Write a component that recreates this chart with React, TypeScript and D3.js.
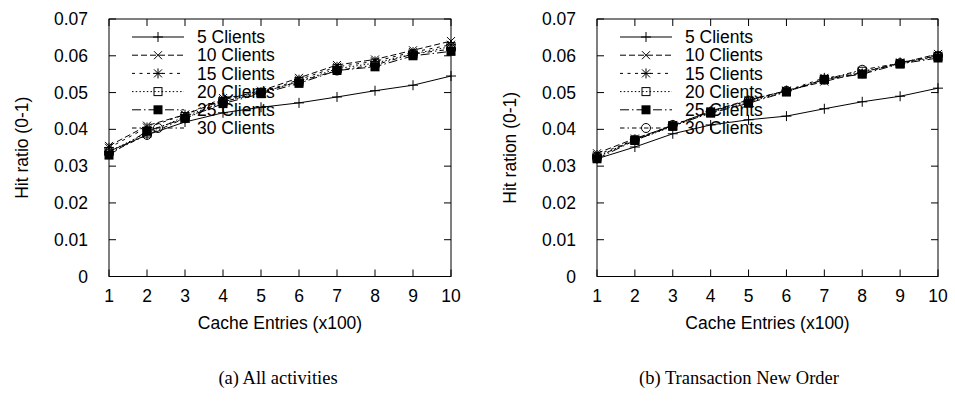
import React from "react";
import * as d3 from "d3";

// x positions (cache entries, x100)
const cacheEntries = [1, 2, 3, 4, 5, 6, 7, 8, 9, 10];
const yTicks = [0, 0.01, 0.02, 0.03, 0.04, 0.05, 0.06, 0.07];
const yTickLabels = ["0", "0.01", "0.02", "0.03", "0.04", "0.05", "0.06", "0.07"];
const seriesNames = ["5 Clients", "10 Clients", "15 Clients", "20 Clients", "25 Clients", "30 Clients"];

// (a) All activities
const allC5 = [0.034, 0.0385, 0.042, 0.0445, 0.046, 0.0472, 0.0488, 0.0505, 0.052, 0.0545];
const allC10 = [0.0355, 0.041, 0.044, 0.048, 0.0505, 0.054, 0.0575, 0.059, 0.0615, 0.064];
const allC15 = [0.035, 0.0405, 0.044, 0.0485, 0.05, 0.0535, 0.057, 0.0585, 0.061, 0.063];
const allC20 = [0.034, 0.039, 0.0435, 0.0475, 0.05, 0.053, 0.0565, 0.058, 0.0605, 0.0625];
const allC25 = [0.033, 0.0395, 0.043, 0.047, 0.0497, 0.0525, 0.056, 0.057, 0.06, 0.0612];
const allC30 = [0.0335, 0.0385, 0.043, 0.0475, 0.05, 0.053, 0.056, 0.0575, 0.0605, 0.0618];

// (b) Transaction New Order
const newC5 = [0.032, 0.0352, 0.0388, 0.0412, 0.0426, 0.0436, 0.0456, 0.0475, 0.049, 0.0512];
const newC10 = [0.0335, 0.0375, 0.041, 0.045, 0.048, 0.0505, 0.053, 0.0555, 0.058, 0.0605];
const newC15 = [0.033, 0.0372, 0.0412, 0.0448, 0.0478, 0.0505, 0.054, 0.0552, 0.0582, 0.06];
const newC20 = [0.0325, 0.037, 0.0408, 0.0446, 0.0475, 0.0502, 0.0535, 0.0558, 0.0578, 0.0598];
const newC25 = [0.032, 0.037, 0.041, 0.0444, 0.0471, 0.0502, 0.0536, 0.055, 0.0578, 0.0594];
const newC30 = [0.0325, 0.0372, 0.0412, 0.0448, 0.0478, 0.0505, 0.0535, 0.0562, 0.058, 0.06];

// gnuplot-ish line types
const dashes = [null, "6,3", "3,4.5", "1.5,2.2", "9,3,1.5,3", "4.5,3,1.5,3"];
const sans = "'Liberation Sans', Arial, sans-serif";
const serif = "'Liberation Serif', 'Times New Roman', serif";

const Marker = ({ kind, x, y }: { kind: number; x: number; y: number }) => {
  const t = `translate(${x},${y})`;
  if (kind === 0) return <path transform={t} d="M-5,0H5M0,-5V5" stroke="#000" />;
  if (kind === 1) return <path transform={t} d="M-4,-4L4,4M-4,4L4,-4" stroke="#000" />;
  if (kind === 2) return <path transform={t} d="M-5,0H5M0,-5V5M-4,-4L4,4M-4,4L4,-4" stroke="#000" />;
  if (kind === 3) return <rect transform={t} x={-4} y={-4} width={8} height={8} fill="none" stroke="#000" />;
  if (kind === 4) return <rect transform={t} x={-4.5} y={-4.5} width={9} height={9} fill="#000" />;
  return <circle transform={t} r={4.5} fill="none" stroke="#000" />;
};

const Panel = ({ left, right, series, ylabel, caption, captionX }: any) => {
  const top = 19;
  const bottom = 276.5;
  const x = d3.scaleLinear().domain([1, 10]).range([left, right]);
  const y = d3.scaleLinear().domain([0, 0.07]).range([bottom, top]);
  const line = d3.line<number>().x((d, i) => x(cacheEntries[i])).y(d => y(d));
  const tl = 7;
  return (
    <g>
      {/* ticks on all four sides, pointing in */}
      {cacheEntries.map(v => (
        <g key={"xt" + v}>
          <line x1={x(v)} x2={x(v)} y1={bottom} y2={bottom - tl} stroke="#000" />
          <line x1={x(v)} x2={x(v)} y1={top} y2={top + tl} stroke="#000" />
          <text x={x(v)} y={302} textAnchor="middle" fontFamily={sans} fontSize={17.5}>{v}</text>
        </g>
      ))}
      {yTicks.map((v, i) => (
        <g key={"yt" + i}>
          <line x1={left} x2={left + tl} y1={y(v)} y2={y(v)} stroke="#000" />
          <line x1={right} x2={right - tl} y1={y(v)} y2={y(v)} stroke="#000" />
          <text x={left - 21} y={y(v)} dy="0.35em" textAnchor="end" fontFamily={sans} fontSize={17.5}>{yTickLabels[i]}</text>
        </g>
      ))}
      <rect x={left} y={top} width={right - left} height={bottom - top} fill="none" stroke="#000" />
      <text x={(left + right) / 2} y={329} textAnchor="middle" fontFamily={sans} fontSize={17.5}>Cache Entries (x100)</text>
      <text transform={`translate(${left - 87},${(top + bottom) / 2}) rotate(-90)`} dy="0.35em" textAnchor="middle" fontFamily={sans} fontSize={17.5}>{ylabel}</text>
      {series.map((s: number[], k: number) => {
        const ly = 37 + k * 18.2;
        return (
          <g key={"s" + k}>
            <text x={left + 88} y={ly} dy="0.35em" fontFamily={sans} fontSize={17.5}>{seriesNames[k]}</text>
            <line x1={left + 23} x2={left + 75} y1={ly} y2={ly} stroke="#000" strokeDasharray={dashes[k] || undefined} />
            <Marker kind={k} x={left + 49} y={ly} />
            <path d={line(s) || ""} fill="none" stroke="#000" strokeDasharray={dashes[k] || undefined} />
            {s.map((v, i) => <Marker key={i} kind={k} x={x(cacheEntries[i])} y={y(v)} />)}
          </g>
        );
      })}
      <text x={captionX} y={384} textAnchor="middle" fontFamily={serif} fontSize={18.5}>{caption}</text>
    </g>
  );
};

export default function App() {
  return (
    <svg width={955} height={401} style={{ position: "absolute", left: 0, top: 0, background: "#fff" }}>
      <rect width={955} height={401} fill="#fff" />
      <Panel left={109} right={451} series={[allC5, allC10, allC15, allC20, allC25, allC30]}
        ylabel="Hit ratio (0-1)" caption="(a) All activities" captionX={278} />
      <Panel left={597} right={938} series={[newC5, newC10, newC15, newC20, newC25, newC30]}
        ylabel="Hit ration (0-1)" caption="(b) Transaction New Order" captionX={739} />
    </svg>
  );
}
